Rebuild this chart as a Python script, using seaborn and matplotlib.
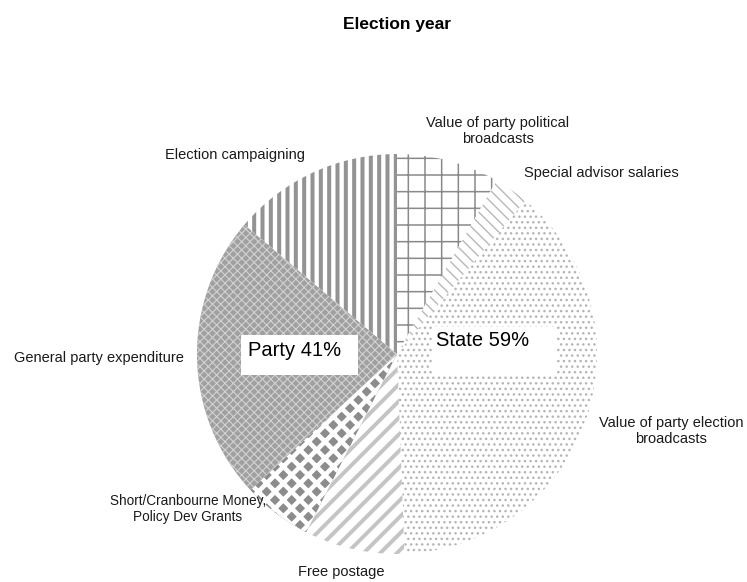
import matplotlib
matplotlib.use("Agg")
import matplotlib.pyplot as plt
from matplotlib.patches import Rectangle
import seaborn as sns

sns.set_theme(style="white")
plt.rcParams["font.family"] = ["Liberation Sans", "DejaVu Sans"]

# ---- data (clockwise from 12 o'clock) ----
categories = [
    "Value of party political\nbroadcasts",
    "Special advisor salaries",
    "Value of party election\nbroadcasts",
    "Free postage",
    "Short/Cranbourne Money,\nPolicy Dev Grants",
    "General party expenditure",
    "Election campaigning",
]
shares = [8.3, 2.8, 38.3, 8.1, 5.6, 23.1, 13.8]
group_labels = ["Party 41%", "State 59%"]
title = "Election year"

# ---- styles ----
face = ["white", "white", "white", "white", "#8c8c8c", "#a0a0a0", "white"]
hatch_col = ["#8a8a8a", "#b8b8b8", "#b5b5b5", "#c4c4c4", "white", "#d2d2d2", "#939393"]
hatches = ["+", "\\\\\\", "...", "//", "xx", "xxxx", "||"]
hatch_lw = [1.1, 1.0, 1.0, 2.8, 3.3, 0.8, 2.9]

W, H = 747, 582
fig = plt.figure(figsize=(W / 100, H / 100), dpi=100)

cx, cy, R = 397, 354, 200
ax = fig.add_axes([(cx - R) / W, (H - cy - R) / H, 2 * R / W, 2 * R / H])

wedges, _ = ax.pie(shares, startangle=90, counterclock=False, radius=1,
                   colors=face, wedgeprops=dict(linewidth=0))
for w, hc, ht, lw in zip(wedges, hatch_col, hatches, hatch_lw):
    w.set_edgecolor(hc)
    w.set_hatch(ht)
    w.set_linewidth(0)
    try:
        w.set_hatch_linewidth(lw)
    except AttributeError:
        pass
ax.set_xlim(-1, 1)
ax.set_ylim(-1, 1)
ax.axis("off")

def fx(x):
    return x / W

def fy(y):
    return 1 - y / H

fig.text(fx(397), fy(25), title, ha="center", va="center", fontsize=12.5,
         fontweight="bold", color="black")

label_pos = [(498, 131), (601, 173), (671, 431), (341, 572),
             (188, 509), (98.5, 358), (235, 155)]
label_size = [10.5, 10.5, 10.5, 10.5, 9.8, 10.5, 10.5]
for lab, (x, y), fs in zip(categories, label_pos, label_size):
    fig.text(fx(x), fy(y), lab, ha="center", va="center", fontsize=fs,
             color="#1a1a1a", linespacing=1.2)

# group annotation boxes
boxes = [(241, 335, 358, 375, 248, 351), (432, 327, 557, 375, 436, 341)]
for lab, (x0, y0, x1, y1, tx, ty) in zip(group_labels, boxes):
    fig.patches.append(Rectangle((fx(x0), fy(y1)), fx(x1 - x0), (y1 - y0) / H,
                                 transform=fig.transFigure, facecolor="white",
                                 edgecolor="none", zorder=5))
    fig.text(fx(tx), fy(ty), lab, ha="left", va="center", fontsize=14.5,
             color="black", zorder=6)

fig.savefig("out.png", dpi=100)
